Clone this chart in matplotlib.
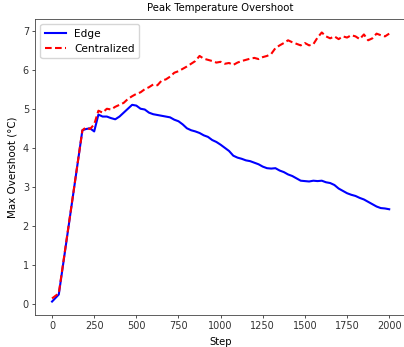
import matplotlib
matplotlib.use("Agg")
import matplotlib.pyplot as plt

steps = [0, 40, 180] + list(range(200, 2001, 25))

edge = [0.07, 0.25, 4.45,
        4.48, 4.50, 4.42, 4.85, 4.80, 4.80, 4.76, 4.73, 4.80, 4.90,
        5.00, 5.10, 5.08, 5.00, 4.98, 4.90, 4.86, 4.84, 4.82, 4.80,
        4.78, 4.72, 4.68, 4.60, 4.50, 4.45, 4.42, 4.38, 4.32, 4.28,
        4.20, 4.15, 4.08, 4.00, 3.92, 3.80, 3.75, 3.72, 3.68, 3.66,
        3.62, 3.58, 3.52, 3.48, 3.47, 3.48, 3.42, 3.38, 3.32, 3.28,
        3.22, 3.16, 3.15, 3.14, 3.16, 3.15, 3.16, 3.12, 3.10, 3.05,
        2.96, 2.90, 2.84, 2.80, 2.77, 2.72, 2.68, 2.62, 2.56, 2.50,
        2.46, 2.45, 2.43]

centralized = [0.15, 0.28, 4.45,
               4.52, 4.48, 4.60, 4.95, 4.90, 5.00, 4.98, 5.05, 5.10, 5.15,
               5.25, 5.32, 5.38, 5.42, 5.50, 5.55, 5.62, 5.60, 5.72, 5.75,
               5.82, 5.92, 5.96, 6.02, 6.08, 6.15, 6.22, 6.35, 6.28, 6.25,
               6.22, 6.18, 6.20, 6.15, 6.17, 6.12, 6.18, 6.22, 6.25, 6.28,
               6.30, 6.27, 6.32, 6.35, 6.40, 6.55, 6.62, 6.68, 6.75, 6.70,
               6.66, 6.62, 6.68, 6.62, 6.65, 6.82, 6.95, 6.85, 6.80, 6.85,
               6.78, 6.85, 6.82, 6.88, 6.85, 6.78, 6.90, 6.75, 6.80, 6.92,
               6.88, 6.85, 6.92]

plt.rcParams['font.size'] = 7

fig = plt.figure(figsize=(4.04, 3.47), dpi=100)
ax = fig.add_axes([0.0871, 0.0922, 0.918, 0.853])

ax.plot(steps, edge, color='blue', lw=1.5, label='Edge')
ax.plot(steps, centralized, color='red', lw=1.5, linestyle='--',
        dashes=(3.2, 1.6), label='Centralized')

ax.set_title('Peak Temperature Overshoot', fontsize=7.3)
ax.set_xlabel('Step', fontsize=7.2)
ax.set_ylabel('Max Overshoot (°C)', fontsize=7.4)
ax.set_xticks(range(0, 2001, 250))
for s in ax.spines.values():
    s.set_linewidth(0.6)
    s.set_color('#444444')
ax.tick_params(width=0.6, length=2.5, pad=2, colors='#333333')
ax.legend(loc='upper left', fontsize=7.6)

fig.savefig('out.png', dpi=100)
